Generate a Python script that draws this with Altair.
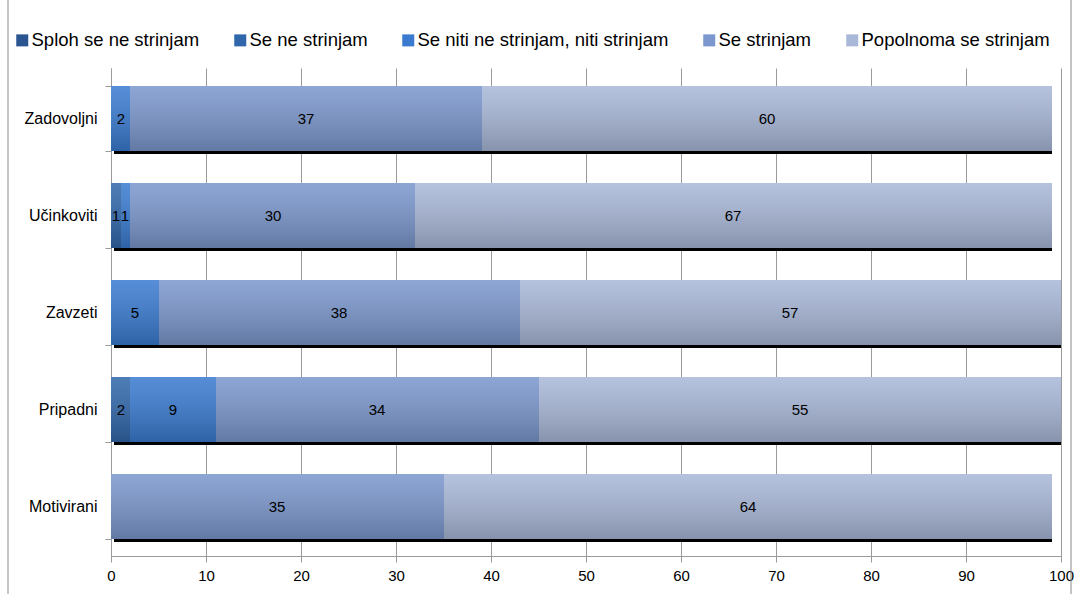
import altair as alt
import pandas as pd

# Survey groups (top to bottom) and answer categories (stack order, left to right)
groups = ["Zadovoljni", "Učinkoviti", "Zavzeti", "Pripadni", "Motivirani"]
answers = [
    "Sploh se ne strinjam",
    "Se ne strinjam",
    "Se niti ne strinjam, niti strinjam",
    "Se strinjam",
    "Popolnoma se strinjam",
]

# Percentages per answer, one value per group
sploh_se_ne = [0, 0, 0, 0, 0]
se_ne = [0, 1, 0, 2, 0]
niti_niti = [2, 1, 5, 9, 0]
se_strinjam = [37, 30, 38, 34, 35]
popolnoma = [60, 67, 57, 55, 64]

palette = ["#2a5590", "#3067aa", "#3a7bd0", "#7b97cd", "#a9b8d8"]

series = [sploh_se_ne, se_ne, niti_niti, se_strinjam, popolnoma]
rows = []
for ai, (ans, vals) in enumerate(zip(answers, series)):
    for g, v in zip(groups, vals):
        rows.append({"group": g, "answer": ans, "order": ai, "value": v})
df = pd.DataFrame(rows)

FONT = "Liberation Sans"
GRAY = "#9a9a9a"

x_scale = alt.Scale(domain=[0, 100], nice=False, round=True)
y_scale = alt.Scale(paddingInner=0.333, paddingOuter=0.167, round=True)

x_axis = alt.Axis(
    values=list(range(0, 101, 10)),
    title=None,
    grid=True,
    gridColor=GRAY,
    gridWidth=1,
    domainColor=GRAY,
    tickColor=GRAY,
    tickSize=6,
    labelFontSize=15,
    labelFont=FONT,
    labelColor="black",
    labelPadding=6,
    labelFlush=False,
)
y_axis = alt.Axis(
    title=None,
    tickBand="extent",
    domainColor=GRAY,
    tickColor=GRAY,
    tickSize=6,
    labelFontSize=16,
    labelFont=FONT,
    labelColor="black",
    labelPadding=8,
)

y_enc = alt.Y("group:N", sort=groups, scale=y_scale, axis=y_axis)

base = (
    alt.Chart(df)
    .transform_filter("datum.value > 0")
    .transform_stack(
        stack="value",
        groupby=["group"],
        as_=["x0", "x1"],
        sort=[alt.SortField("order", order="ascending")],
    )
    .transform_calculate(mid="(datum.x0 + datum.x1) / 2")
)

# Drop shadow behind each full row
shadow = (
    alt.Chart(df)
    .transform_aggregate(total="sum(value)", groupby=["group"])
    .transform_calculate(start="0")
    .mark_bar(color="black", xOffset=3, yOffset=3)
    .encode(
        x=alt.X("start:Q", scale=x_scale, axis=x_axis),
        x2="total:Q",
        y=y_enc,
    )
)

bars = base.mark_bar().encode(
    x=alt.X("x0:Q", scale=x_scale, axis=x_axis),
    x2="x1:Q",
    y=y_enc,
    color=alt.Color(
        "answer:N",
        scale=alt.Scale(domain=answers, range=palette),
        legend=alt.Legend(
            title=None,
            orient="none",
            legendX=-98,
            legendY=-37,
            direction="horizontal",
            columns=5,
            columnPadding=31,
            symbolType="square",
            symbolSize=144,
            symbolStrokeWidth=0,
            labelFontSize=18.5,
            labelFont=FONT,
            labelColor="black",
            labelOffset=0,
            labelLimit=500,
        ),
    ),
    order=alt.Order("order:Q"),
)

shade = base.mark_bar(
    color=alt.Gradient(
        gradient="linear",
        stops=[
            alt.GradientStop(color="rgba(255,255,255,0.14)", offset=0),
            alt.GradientStop(color="rgba(0,0,0,0.20)", offset=1),
        ],
        x1=0, x2=0, y1=0, y2=1,
    )
).encode(
    x=alt.X("x0:Q", scale=x_scale, axis=x_axis),
    x2="x1:Q",
    y=y_enc,
)

labels = base.mark_text(fontSize=15, font=FONT, color="black").encode(
    x=alt.X("mid:Q", scale=x_scale, axis=x_axis),
    y=y_enc,
    text=alt.Text("value:Q"),
)

frame = alt.Chart(pd.DataFrame({"k": [0]})).mark_rect(
    filled=False, stroke="#8a8a8a", strokeWidth=1, clip=False
).encode(
    x=alt.value(-103),
    x2=alt.value(960),
    y=alt.value(-80),
    y2=alt.value(545),
)

chart = (
    alt.layer(shadow, bars, shade, labels, frame)
    .properties(
        width=950,
        height=488,
        autosize=alt.AutoSizeParams(type="none"),
        padding={"left": 111, "top": 68, "right": 14, "bottom": 38},
        background="white",
    )
    .configure_view(stroke=None)
)

chart.save("out.html", embed_options={"renderer": "svg", "actions": False})
